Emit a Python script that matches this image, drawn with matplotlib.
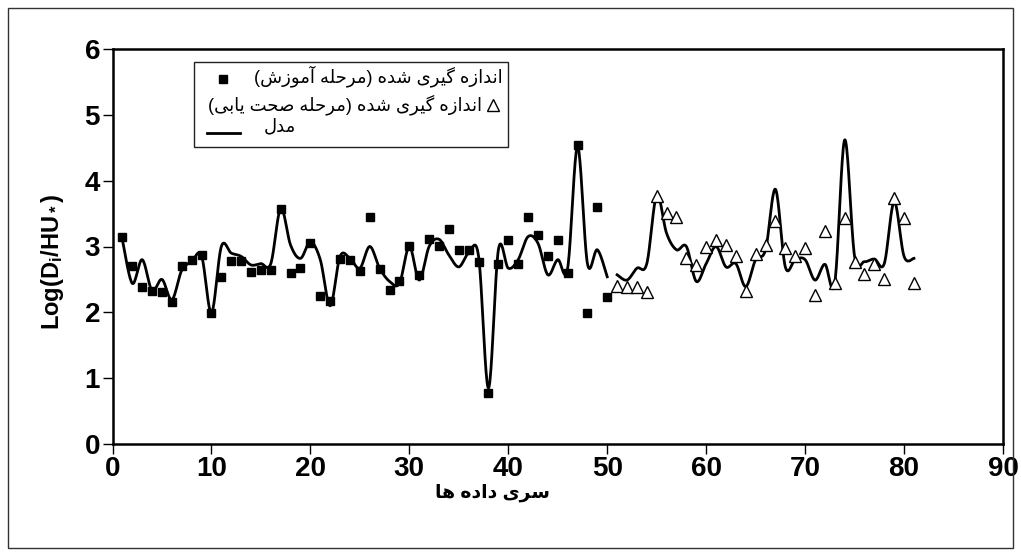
import numpy as np
import matplotlib.pyplot as plt
from matplotlib.lines import Line2D
from matplotlib.patches import Rectangle

plt.rcParams['font.family'] = ['Liberation Sans', 'DejaVu Sans']
plt.rcParams['mathtext.fontset'] = 'custom'
plt.rcParams['mathtext.rm'] = 'Liberation Sans:bold'
plt.rcParams['mathtext.it'] = 'Liberation Sans:bold'
plt.rcParams['mathtext.bf'] = 'Liberation Sans:bold'

# measured, training stage (x = 1..50)
train_x = list(range(1, 51))
train_y = [3.14, 2.70, 2.38, 2.33, 2.31, 2.16, 2.70, 2.79, 2.87, 1.99,
           2.53, 2.78, 2.78, 2.61, 2.65, 2.65, 3.57, 2.59, 2.67, 3.05,
           2.25, 2.17, 2.81, 2.79, 2.63, 3.45, 2.66, 2.34, 2.47, 3.01,
           2.56, 3.11, 3.01, 3.26, 2.95, 2.94, 2.77, 0.78, 2.74, 3.10,
           2.74, 3.45, 3.17, 2.85, 3.10, 2.59, 4.54, 1.99, 3.60, 2.24]

# measured, validation stage (x = 51..81)
valid_x = list(range(51, 82))
valid_y = [2.40, 2.39, 2.39, 2.31, 3.76, 3.51, 3.45, 2.82, 2.72, 3.00,
           3.10, 3.02, 2.86, 2.32, 2.88, 3.03, 3.39, 2.97, 2.86, 2.98,
           2.27, 3.23, 2.45, 3.44, 2.77, 2.58, 2.73, 2.50, 3.74, 3.43, 2.45]

# model, two pieces
model1_x = list(range(1, 51))
model1_y = [3.10, 2.44, 2.80, 2.33, 2.50, 2.19, 2.64, 2.77, 2.86, 1.99,
            3.00, 2.90, 2.85, 2.72, 2.74, 2.74, 3.58, 3.02, 2.82, 3.07,
            2.80, 2.10, 2.85, 2.82, 2.67, 3.00, 2.67, 2.47, 2.44, 3.00,
            2.49, 3.00, 3.11, 2.87, 2.69, 2.90, 2.85, 0.85, 2.95, 2.67,
            2.80, 3.15, 3.05, 2.57, 2.80, 2.67, 4.52, 2.74, 2.95, 2.54]
model2_x = list(range(51, 82))
model2_y = [2.57, 2.49, 2.67, 2.74, 3.78, 3.20, 2.95, 3.00, 2.47, 2.74,
            3.00, 2.69, 2.74, 2.39, 2.80, 2.95, 3.87, 2.69, 2.80, 2.80,
            2.49, 2.73, 2.45, 4.62, 2.85, 2.77, 2.81, 2.74, 3.68, 2.85, 2.82]

lbl_train = 'اندازه گیری شده (مرحله آموزش)'
lbl_valid = 'اندازه گیری شده (مرحله صحت یابی)'
lbl_model = 'مدل'
x_title = 'سری داده ها'
y_title = r'Log(D$_i$/HU$_*$)'

# matplotlib has no arabic shaping, so pick the presentation forms by hand
FORMS = {
    'ا': '\uFE8D\uFE8E', 'آ': '\uFE81\uFE82', 'د': '\uFEA9\uFEAA',
    'ر': '\uFEAD\uFEAE', 'ز': '\uFEAF\uFEB0', 'و': '\uFEED\uFEEE',
    'ب': '\uFE8F\uFE90\uFE91\uFE92', 'ت': '\uFE95\uFE96\uFE97\uFE98',
    'ح': '\uFEA1\uFEA2\uFEA3\uFEA4', 'س': '\uFEB1\uFEB2\uFEB3\uFEB4',
    'ش': '\uFEB5\uFEB6\uFEB7\uFEB8', 'ص': '\uFEB9\uFEBA\uFEBB\uFEBC',
    'ل': '\uFEDD\uFEDE\uFEDF\uFEE0', 'م': '\uFEE1\uFEE2\uFEE3\uFEE4',
    'ن': '\uFEE5\uFEE6\uFEE7\uFEE8', 'ه': '\uFEE9\uFEEA\uFEEB\uFEEC',
    'گ': '\uFB92\uFB93\uFB94\uFB95', 'ی': '\uFBFC\uFBFD\uFBFE\uFBFF',
}


def shape(s):
    out = []
    for i, c in enumerate(s):
        if c not in FORMS:
            out.append(c)
            continue
        f = FORMS[c]
        prev = s[i - 1] if i > 0 else ''
        nxt = s[i + 1] if i + 1 < len(s) else ''
        jp = prev in FORMS and len(FORMS[prev]) == 4
        jn = len(f) == 4 and nxt in FORMS
        if jp and jn:
            out.append(f[3])
        elif jp:
            out.append(f[1])
        elif jn:
            out.append(f[2])
        else:
            out.append(f[0])
    t = ''.join(out)[::-1]
    return t.translate(str.maketrans('()', ')('))


def smooth(x, y, n=20):
    # catmull-rom, like the excel "smoothed line"
    x = np.asarray(x, float)
    y = np.asarray(y, float)
    px = np.r_[x[0], x, x[-1]]
    py = np.r_[y[0], y, y[-1]]
    t = np.linspace(0, 1, n, endpoint=False)[:, None]
    def cr(p):
        p0, p1, p2, p3 = p[:-3], p[1:-2], p[2:-1], p[3:]
        v = 0.5 * (2 * p1 + (-p0 + p2) * t + (2 * p0 - 5 * p1 + 4 * p2 - p3) * t ** 2
                   + (-p0 + 3 * p1 - 3 * p2 + p3) * t ** 3)
        return np.r_[v.T.ravel(), p[-2]]
    return cr(px), cr(py)


W, H = 1021, 556
fig = plt.figure(figsize=(W / 100, H / 100), dpi=100)
ax = fig.add_axes([112.5 / W, 1 - 444 / H, (1003 - 112.5) / W, (444 - 49) / H])

for mx, my in [(model1_x, model1_y), (model2_x, model2_y)]:
    sx, sy = smooth(mx, my)
    ax.plot(sx, sy, color='black', lw=2.0, zorder=2)
ax.plot(train_x, train_y, ls='none', marker='s', ms=6, color='black', zorder=3)
ax.plot(valid_x, valid_y, ls='none', marker='^', ms=9, mfc='white', mec='black',
        mew=1.0, zorder=3)

ax.set_xlim(0, 90)
ax.set_ylim(0, 6)
ax.set_xticks(range(0, 91, 10))
ax.set_yticks(range(0, 7))
ax.tick_params(direction='out', length=7, width=1, labelsize=20, pad=2)
for lab in ax.get_xticklabels() + ax.get_yticklabels():
    lab.set_fontweight('bold')
for sp in ax.spines.values():
    sp.set_linewidth(1.8)

fig.text(52 / W, 1 - 262 / H, y_title, rotation=90, ha='center', va='center',
         fontsize=17, fontweight='bold')
fig.text(492 / W, 1 - 493 / H, shape(x_title), ha='center', va='center',
         fontsize=13.5, fontweight='bold')

# legend drawn by hand (right-to-left layout)
fig.add_artist(Rectangle((194 / W, 1 - 147 / H), (508 - 194) / W, (147 - 62) / H,
                         transform=fig.transFigure, fill=False, lw=1, ec='#222222'))
fig.text(503 / W, 1 - 76 / H, shape(lbl_train), ha='right', va='center', fontsize=13)
fig.add_artist(Line2D([223 / W], [1 - 79 / H], transform=fig.transFigure, marker='s',
                      ms=6, color='black', ls='none'))
fig.text(482 / W, 1 - 105 / H, shape(lbl_valid), ha='right', va='center', fontsize=13)
fig.add_artist(Line2D([493 / W], [1 - 105 / H], transform=fig.transFigure, marker='^',
                      ms=9, mfc='white', mec='black', mew=1.0, ls='none'))
fig.add_artist(Line2D([207 / W, 240 / W], [1 - 133 / H, 1 - 133 / H],
                      transform=fig.transFigure, color='black', lw=2))
fig.text(280 / W, 1 - 127 / H, shape(lbl_model), ha='center', va='center', fontsize=13)

# outer chart border
fig.add_artist(Rectangle((8 / W, 8 / H), (1013 - 8) / W, (548 - 8) / H,
                         transform=fig.transFigure, fill=False, lw=1, ec='#333333'))

fig.savefig('out.png', dpi=100)
